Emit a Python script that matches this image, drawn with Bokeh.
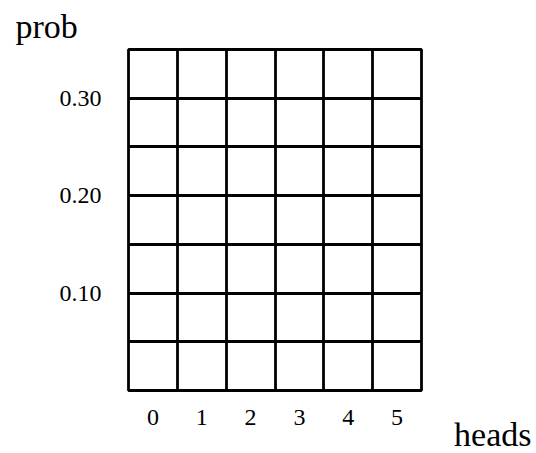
from bokeh.plotting import figure
from bokeh.models import FixedTicker, NumeralTickFormatter, Title
from bokeh.embed import file_html
from bokeh.resources import INLINE

# data
heads = [0, 1, 2, 3, 4, 5]
prob_ticks = [0.10, 0.20, 0.30]
x_grid = [0.5, 1.5, 2.5, 3.5, 4.5]
y_grid = [0.05, 0.10, 0.15, 0.20, 0.25, 0.30]
x_title = "heads"
y_title = "prob"

FONT = "Liberation Serif"

p = figure(width=536, height=453, x_range=(-0.5, 5.5), y_range=(0, 0.35),
           output_backend="svg", toolbar_location=None,
           min_border_left=128, min_border_right=115,
           min_border_top=49, min_border_bottom=63)

p.background_fill_color = "white"
p.border_fill_color = "white"
p.outline_line_color = "black"
p.outline_line_width = 2.8
p.outline_line_alpha = 1.0

p.xgrid.ticker = FixedTicker(ticks=x_grid)
p.ygrid.ticker = FixedTicker(ticks=y_grid)
for g in (p.xgrid, p.ygrid):
    g.grid_line_color = "black"
    g.grid_line_width = 2.8
    g.grid_line_alpha = 1.0

p.xaxis.ticker = FixedTicker(ticks=heads)
p.yaxis.ticker = FixedTicker(ticks=prob_ticks)
p.yaxis.formatter = NumeralTickFormatter(format="0.00")

for ax in (p.xaxis, p.yaxis):
    ax.axis_line_color = None
    ax.major_tick_line_color = None
    ax.minor_tick_line_color = None
    ax.major_tick_in = 0
    ax.major_tick_out = 0
    ax.minor_tick_in = 0
    ax.minor_tick_out = 0
    ax.major_label_text_font = FONT
    ax.major_label_text_font_size = "24px"
    ax.major_label_text_color = "black"
p.xaxis.major_label_standoff = 19
p.yaxis.major_label_standoff = 27

p.add_layout(Title(text=y_title, align="left", offset=-113, standoff=10,
                   vertical_align="bottom", text_font=FONT,
                   text_font_size="34px", text_font_style="normal",
                   text_color="black"), "above")
p.add_layout(Title(text=x_title, align="right", offset=-110, standoff=-24,
                   vertical_align="top", text_font=FONT,
                   text_font_size="34px", text_font_style="normal",
                   text_color="black"), "below")

open("out.html", "w").write(file_html(p, INLINE))
